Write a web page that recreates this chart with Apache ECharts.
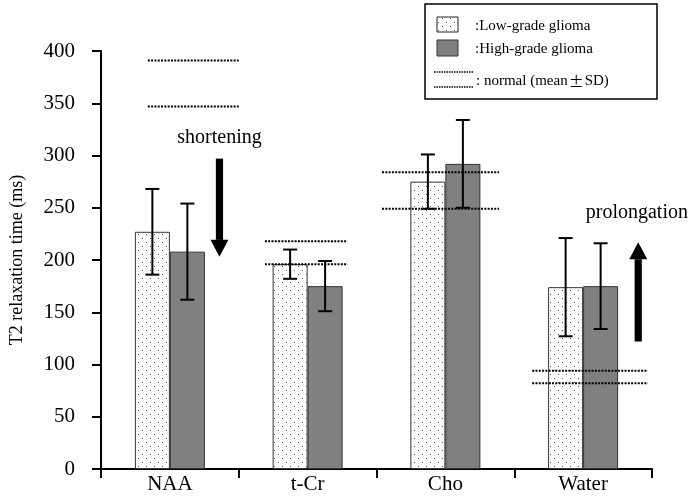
<!DOCTYPE html>
<html>
<head>
<meta charset="utf-8">
<title>T2 relaxation time</title>
<script src="https://cdn.jsdelivr.net/npm/echarts@6/dist/echarts.min.js"></script>
<style>
  html, body { margin: 0; padding: 0; background: #fff; }
  #chart { width: 692px; height: 497px; }
</style>
</head>
<body>
<div id="chart"></div>
<script>
// Metabolite categories
const categories = ['NAA', 't-Cr', 'Cho', 'Water'];

// T2 relaxation time (ms): mean and SD per tumour grade
const lowGrade = [227, 196, 275, 174];
const lowGradeSD = [41, 14, 26, 47];
const highGrade = [208, 175, 292, 175];
const highGradeSD = [46, 24, 42, 41];

// Normal tissue range (mean + SD / mean - SD) and the span each guide covers
const normalUpper = [391, 218, 284, 94];
const normalLower = [347, 196, 249, 82];
const normalSpanStart = [0.34, 1.19, 2.04, 3.13];
const normalSpanEnd = [1.0, 1.79, 2.89, 3.97];

// Trend annotations
const trendLabels = ['shortening', 'prolongation'];
const trendX = [0.86, 3.9];
const trendFrom = [297, 122];
const trendTo = [203, 217];
const trendLabelX = [0.86, 3.89];
const trendLabelY = [317, 245];

// Y axis range
const yMin = 0, yMax = 400, yStep = 50;

const SERIF = '"Liberation Serif", "Times New Roman", serif';
const BAR_W = 35;

// Stippled fill for the low-grade bars
function makeDots() {
  const c = document.createElement('canvas');
  c.width = 8; c.height = 8;
  const g = c.getContext('2d');
  g.fillStyle = '#fff';
  g.fillRect(0, 0, 8, 8);
  g.fillStyle = '#555';
  g.fillRect(2, 2, 1, 1);
  g.fillRect(6, 6, 1, 1);
  return c;
}
const dots = { image: makeDots(), repeat: 'repeat' };

const chart = echarts.init(document.getElementById('chart'), null, { renderer: 'canvas' });

function errorBarRenderer(offset) {
  return function (params, api) {
    const idx = api.value(0);
    const mean = api.value(1);
    const sd = api.value(2);
    const top = api.coord([idx, mean + sd]);
    const bot = api.coord([idx, mean - sd]);
    const x = top[0] + offset;
    const cap = 7;
    const style = { stroke: '#000', lineWidth: 2 };
    return {
      type: 'group',
      children: [
        { type: 'line', shape: { x1: x, y1: top[1], x2: x, y2: bot[1] }, style },
        { type: 'line', shape: { x1: x - cap, y1: top[1], x2: x + cap, y2: top[1] }, style },
        { type: 'line', shape: { x1: x - cap, y1: bot[1], x2: x + cap, y2: bot[1] }, style }
      ]
    };
  };
}

function normalLineRenderer(params, api) {
  const a = api.coord([api.value(0), api.value(2)]);
  const b = api.coord([api.value(1), api.value(2)]);
  return {
    type: 'line',
    shape: { x1: a[0], y1: a[1], x2: b[0], y2: b[1] },
    style: { stroke: '#000', lineWidth: 2, lineDash: [2, 1.3] }
  };
}

function arrowRenderer(params, api) {
  const p0 = api.coord([api.value(0), api.value(1)]);
  const p1 = api.coord([api.value(0), api.value(2)]);
  const dir = p1[1] > p0[1] ? 1 : -1;
  const headLen = 17, headHalf = 9, shaftHalf = 3.6;
  const baseY = p1[1] - dir * headLen;
  return {
    type: 'group',
    children: [
      { type: 'rect', shape: { x: p0[0] - shaftHalf, y: Math.min(p0[1], baseY), width: shaftHalf * 2, height: Math.abs(baseY - p0[1]) }, style: { fill: '#000' } },
      { type: 'polygon', shape: { points: [[p0[0] - headHalf, baseY], [p0[0] + headHalf, baseY], [p1[0], p1[1]]] }, style: { fill: '#000' } }
    ]
  };
}

function trendTextRenderer(params, api) {
  const p = api.coord([api.value(0), api.value(1)]);
  return {
    type: 'text',
    style: {
      text: trendLabels[params.dataIndex],
      x: p[0], y: p[1],
      align: 'center', verticalAlign: 'middle',
      font: '20px ' + SERIF, fill: '#000'
    }
  };
}

const option = {
  backgroundColor: '#fff',
  animation: false,
  grid: { left: 93, right: 40, top: 51, bottom: 28, containLabel: false },
  xAxis: [
    {
      type: 'category',
      data: categories,
      boundaryGap: true,
      axisLine: { lineStyle: { color: '#000', width: 2 } },
      axisTick: { show: true, length: 9, lineStyle: { color: '#000', width: 2 } },
      axisLabel: { color: '#000', fontFamily: SERIF, fontSize: 21, margin: 5 },
      splitLine: { show: false }
    },
    { type: 'value', min: 0, max: 4, show: false }
  ],
  yAxis: {
    type: 'value',
    min: yMin, max: yMax, interval: yStep,
    name: 'T2 relaxation time (ms)',
    nameLocation: 'middle',
    nameGap: 75,
    nameTextStyle: { color: '#000', fontFamily: SERIF, fontSize: 18 },
    axisLine: { show: true, lineStyle: { color: '#000', width: 2 } },
    axisTick: { show: true, length: 9, lineStyle: { color: '#000', width: 2 } },
    axisLabel: { color: '#000', fontFamily: SERIF, fontSize: 21, margin: 26 },
    splitLine: { show: false }
  },
  graphic: [
    { type: 'rect', shape: { x: 425, y: 4, width: 232, height: 95 }, style: { fill: '#fff', stroke: '#000', lineWidth: 1.5 }, z: 10 },
    { type: 'rect', shape: { x: 437, y: 17, width: 21, height: 15 }, style: { fill: dots, stroke: '#222', lineWidth: 1 }, z: 11 },
    { type: 'rect', shape: { x: 437, y: 40, width: 21, height: 16 }, style: { fill: '#808080', stroke: '#333', lineWidth: 1 }, z: 11 },
    { type: 'text', style: { text: ':Low-grade glioma', x: 475, y: 26, verticalAlign: 'middle', font: '15px ' + SERIF, fill: '#000' }, z: 11 },
    { type: 'text', style: { text: ':High-grade glioma', x: 475, y: 49, verticalAlign: 'middle', font: '15px ' + SERIF, fill: '#000' }, z: 11 },
    { type: 'line', shape: { x1: 434, y1: 72, x2: 474, y2: 72 }, style: { stroke: '#000', lineWidth: 1.5, lineDash: [1.5, 1] }, z: 11 },
    { type: 'line', shape: { x1: 434, y1: 87, x2: 474, y2: 87 }, style: { stroke: '#000', lineWidth: 1.5, lineDash: [1.5, 1] }, z: 11 },
    {
      type: 'text',
      style: {
        text: ': normal (mean{pm|\u00B1}SD)',
        x: 476, y: 81, verticalAlign: 'middle',
        font: '15px ' + SERIF, fill: '#000',
        rich: { pm: { fontFamily: '"Noto Sans CJK JP", sans-serif', fontSize: 15, fill: '#000', padding: [0, 1, 0, 1] } }
      },
      z: 11
    }
  ],
  series: [
    {
      name: 'Low-grade glioma',
      type: 'bar',
      data: lowGrade,
      barWidth: BAR_W,
      barGap: '0%',
      itemStyle: { color: dots, borderColor: '#333', borderWidth: 1 },
      z: 2
    },
    {
      name: 'High-grade glioma',
      type: 'bar',
      data: highGrade,
      barWidth: BAR_W,
      barGap: '0%',
      itemStyle: { color: '#808080', borderColor: '#333', borderWidth: 1 },
      z: 2
    },
    {
      type: 'custom',
      renderItem: errorBarRenderer(-BAR_W / 2),
      data: lowGrade.map((v, i) => [i, v, lowGradeSD[i]]),
      encode: { x: 0, y: 1 },
      z: 4
    },
    {
      type: 'custom',
      renderItem: errorBarRenderer(BAR_W / 2),
      data: highGrade.map((v, i) => [i, v, highGradeSD[i]]),
      encode: { x: 0, y: 1 },
      z: 4
    },
    {
      type: 'custom',
      xAxisIndex: 1,
      renderItem: normalLineRenderer,
      data: normalUpper.map((v, i) => [normalSpanStart[i], normalSpanEnd[i], v])
        .concat(normalLower.map((v, i) => [normalSpanStart[i], normalSpanEnd[i], v])),
      encode: { x: [0, 1], y: 2 },
      z: 5
    },
    {
      type: 'custom',
      xAxisIndex: 1,
      renderItem: arrowRenderer,
      data: trendX.map((x, i) => [x, trendFrom[i], trendTo[i]]),
      encode: { x: 0, y: [1, 2] },
      z: 5
    },
    {
      type: 'custom',
      xAxisIndex: 1,
      renderItem: trendTextRenderer,
      data: trendLabelX.map((x, i) => [x, trendLabelY[i]]),
      encode: { x: 0, y: 1 },
      z: 5
    }
  ]
};

chart.setOption(option);
</script>
</body>
</html>
